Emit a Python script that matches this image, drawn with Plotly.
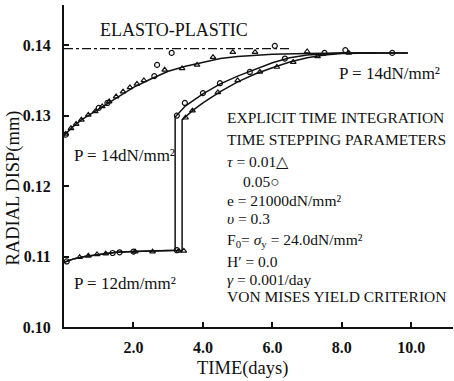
import plotly.graph_objects as go

# ---- data ---------------------------------------------------------------
# Load P = 14 dN/mm^2 applied from t = 0
curve14_t = [0.0, 0.25, 0.5, 1.0, 1.5, 2.0, 2.5, 3.0, 3.5, 4.0, 4.5, 5.0, 6.0, 7.0, 8.0, 9.9]
curve14_u = [0.1272, 0.1284, 0.1294, 0.1309, 0.1325, 0.1340, 0.1352, 0.1363, 0.1370, 0.1376,
             0.1381, 0.1384, 0.1387, 0.1388, 0.1389, 0.1389]

# Load P = 12 then raised to 14 dN/mm^2 (tau = 0.05 branch)
step05_t = [0.0, 0.3, 0.6, 1.0, 1.5, 2.0, 2.5, 3.2, 3.2, 3.5, 4.0, 4.5, 5.0, 5.5, 6.0, 6.5, 7.0, 8.0, 9.9]
step05_u = [0.1092, 0.1097, 0.1100, 0.1103, 0.1106, 0.1107, 0.1108, 0.1109, 0.1298, 0.1314,
            0.1331, 0.1345, 0.1356, 0.1366, 0.1375, 0.1382, 0.1386, 0.1389, 0.1389]

# Load P = 12 then raised to 14 dN/mm^2 (tau = 0.01 branch)
step01_t = [0.0, 0.3, 0.6, 1.0, 1.5, 2.0, 2.5, 3.4, 3.4, 3.7, 4.0, 4.5, 5.0, 5.5, 6.0, 6.5, 7.0, 7.5, 8.0, 9.0]
step01_u = [0.1092, 0.1097, 0.1100, 0.1103, 0.1106, 0.1107, 0.1108, 0.1109, 0.1294, 0.1307,
            0.1318, 0.1334, 0.1348, 0.1359, 0.1368, 0.1376, 0.1382, 0.1386, 0.1388, 0.1389]

# Elasto-plastic limit
elasto_t = [0.0, 6.5]
elasto_u = [0.1395, 0.1395]

# Computed points, tau = 0.01 (triangles)
tri_t = [0.05, 0.2, 0.35, 0.5, 0.7, 0.9, 1.1, 1.3, 1.5, 1.7, 1.9, 2.1, 2.3, 2.9, 3.4, 3.83, 4.29,
         4.86, 5.5, 7.0,
         0.45, 0.7, 0.95, 1.2, 2.05, 2.55, 3.3, 3.45,
         3.5, 3.7, 4.43, 5.0, 5.64, 6.13, 6.6, 7.3, 8.2]
tri_u = [0.1274, 0.1282, 0.1288, 0.1294, 0.1301, 0.1306, 0.1313, 0.1320, 0.1327, 0.1334, 0.1340,
         0.1345, 0.1350, 0.1365, 0.1367, 0.1372, 0.1383, 0.1390, 0.1390, 0.1391,
         0.1099, 0.1101, 0.1103, 0.1104, 0.1107, 0.1107, 0.1108, 0.1108,
         0.1297, 0.1307, 0.1333, 0.1350, 0.1362, 0.1369, 0.1376, 0.1384, 0.1389]

# Computed points, tau = 0.05 (circles)
cir_t = [0.05, 1.0, 1.25, 2.6, 2.68, 3.1, 6.07, 8.1, 9.45,
         0.08, 1.4, 1.6, 2.0, 3.25,
         3.25, 3.48, 4.0, 4.49, 5.35, 6.36, 7.5]
cir_u = [0.1273, 0.1311, 0.1318, 0.1356, 0.1372, 0.1389, 0.1399, 0.1393, 0.1389,
         0.1093, 0.1105, 0.1106, 0.1107, 0.1109,
         0.1300, 0.1318, 0.1332, 0.1346, 0.1362, 0.1381, 0.1389]

# Tick labels
xtick_vals = [2, 4, 6, 8, 10]
xtick_text = ["2.0", "4.0", "6.0", "8.0", "10.0"]
ytick_vals = [0.10, 0.11, 0.12, 0.13, 0.14]
ytick_text = ["0.10", "0.11", "0.12", "0.13", "0.14"]

SERIF = "Liberation Serif, Times New Roman, serif"
INK = "#111111"

fig = go.Figure()

line_style = dict(color=INK, width=1.5)
fig.add_trace(go.Scatter(x=curve14_t, y=curve14_u, mode="lines", line=line_style, hoverinfo="skip"))
fig.add_trace(go.Scatter(x=step05_t, y=step05_u, mode="lines", line=line_style, hoverinfo="skip"))
fig.add_trace(go.Scatter(x=step01_t, y=step01_u, mode="lines", line=line_style, hoverinfo="skip"))
fig.add_trace(go.Scatter(x=elasto_t, y=elasto_u, mode="lines",
                         line=dict(color=INK, width=1.3, dash="dashdot"), hoverinfo="skip"))

fig.add_trace(go.Scatter(x=tri_t, y=tri_u, mode="markers",
                         marker=dict(symbol="triangle-up-open", size=5, color=INK,
                                     line=dict(width=1.2, color=INK))))
fig.add_trace(go.Scatter(x=cir_t, y=cir_u, mode="markers",
                         marker=dict(symbol="circle-open", size=5, color=INK,
                                     line=dict(width=1.2, color=INK))))

# ---- text -----------------------------------------------------------------
def label(x, y, text, size=15):
    fig.add_annotation(x=x, y=y, xref="x", yref="y", text=text, showarrow=False,
                       xanchor="left", yanchor="middle",
                       font=dict(family=SERIF, size=size, color=INK))

label(0.98, 0.1421, "ELASTO-PLASTIC", 18)
label(7.86, 0.1360, "P = 14dN/mm²", 17)
label(0.23, 0.1244, "P = 14dN/mm²", 17)
label(0.23, 0.1062, "P = 12dm/mm²", 17)

bx = 4.63
bs = 15.5
label(bx, 0.1297, "EXPLICIT TIME INTEGRATION", bs)
label(bx, 0.1266, "TIME STEPPING PARAMETERS", bs)
label(bx, 0.1235, "<i>τ</i> = 0.01△", bs)
label(5.09, 0.1207, "0.05○", bs)
label(bx, 0.1180, "e = 21000dN/mm²", bs)
label(bx, 0.1154, "<i>υ</i> = 0.3", bs)
label(bx, 0.1123, "F<sub>0</sub>= <i>σ</i><sub>y</sub> = 24.0dN/mm²", bs)
label(bx, 0.1093, "H′ = 0.0", bs)
label(bx, 0.1067, "<i>γ</i> = 0.001/day", bs)
label(bx, 0.1043, "VON MISES YIELD CRITERION", bs)

# Axis titles
fig.add_annotation(x=-0.1285, y=0.43, xref="paper", yref="paper", text="RADIAL DISP(mm)",
                   textangle=-90, showarrow=False, xanchor="center", yanchor="middle",
                   font=dict(family=SERIF, size=18.5, color=INK))
fig.add_annotation(x=0.46, y=-0.128, xref="paper", yref="paper", text="TIME(days)",
                   showarrow=False, xanchor="center", yanchor="middle",
                   font=dict(family=SERIF, size=18.5, color=INK))

axis_common = dict(showgrid=False, zeroline=False, showline=True, linecolor=INK, linewidth=2,
                   ticks="inside", ticklen=5, tickwidth=1.5, tickcolor=INK,
                   tickfont=dict(family=SERIF, size=16, color=INK, weight="bold"))

fig.update_xaxes(range=[0, 11.2], tickvals=xtick_vals, ticktext=xtick_text,
                 ticklabelstandoff=5, **axis_common)
fig.update_yaxes(range=[0.10, 0.1457], tickvals=ytick_vals, ticktext=ytick_text,
                 ticklabelstandoff=8, **axis_common)

fig.update_layout(width=454, height=381, margin=dict(l=64, r=1, t=5, b=54),
                  paper_bgcolor="white", plot_bgcolor="white", showlegend=False)

fig.write_html("out.html")
